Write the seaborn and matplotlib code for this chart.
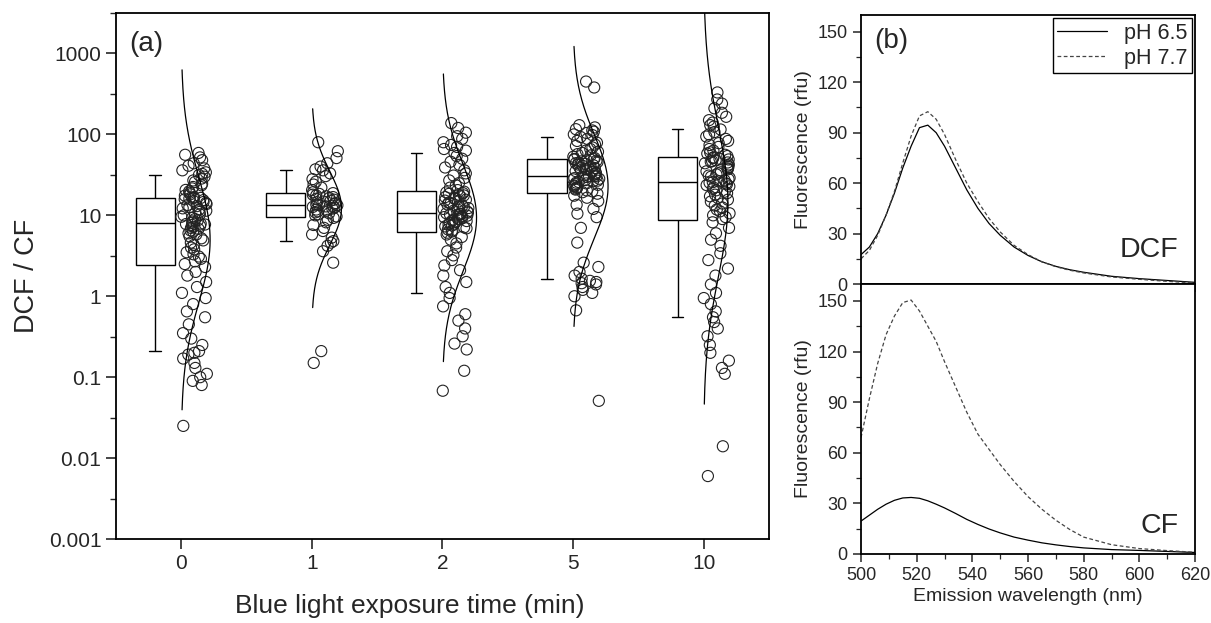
import numpy as np
import pandas as pd
import matplotlib
matplotlib.use("Agg")
import matplotlib.pyplot as plt
import matplotlib.ticker as mticker
import seaborn as sns

# (a) DCF / CF ratio of single cells per blue light exposure time
times = ["0", "1", "2", "5", "10"]
ratio_0 = [0.025, 0.08, 0.09, 0.1, 0.11, 0.13, 0.15, 0.17, 0.19, 0.2,
           0.21, 0.25, 0.3, 0.35, 0.45, 0.55, 0.65, 0.8, 0.95, 1.1, 1.3, 1.5, 1.8, 2.0, 2.3,
           2.5, 2.7, 2.9, 3.1, 3.3, 3.5, 3.8, 4.0, 4.3, 4.6, 4.9, 5.2, 5.5, 5.8, 6.0,
           6.3, 6.5, 6.8, 7.0, 7.2, 7.4, 7.6, 7.7, 7.8, 7.9,
           8.1, 8.4, 8.7, 9.0, 9.3, 9.6, 10, 10.3, 10.6, 11, 11.4, 11.8, 12.2, 12.6, 13,
           13.4, 13.8, 14.2, 14.6, 15, 15.4, 15.8, 16.1, 16.3, 16.4,
           16.8, 17.5, 18.2, 19, 19.8, 20.6, 21.5, 22.4, 23.5, 24.6, 25.8, 27, 28.5, 30, 31.5,
           32.5, 34, 36, 38, 41, 44, 48, 52, 56, 59]
ratio_1 = [0.15, 0.21, 2.6, 3.6, 4.2, 4.6,
           4.8, 5.3, 5.8, 6.4, 7.0, 7.6, 8.2, 8.8, 9.3,
           9.7, 10, 10.3, 10.6, 10.9, 11.2, 11.5, 11.8, 12.1, 12.4, 12.7, 12.9, 13.1, 13.3, 13.4,
           13.6, 13.9, 14.2, 14.5, 14.8, 15.2, 15.6, 16, 16.4, 16.8, 17.2, 17.6, 18, 18.4, 18.8,
           19.3, 20.5, 22, 24, 26, 28, 30.5, 33,
           36, 37, 40, 44, 51, 62, 80]
ratio_2 = [0.068, 0.12, 0.22, 0.26, 0.32, 0.4, 0.5, 0.6, 0.75, 0.95,
           1.1, 1.3, 1.5, 1.8, 2.1, 2.4, 2.8, 3.2, 3.6, 4.0, 4.5, 5.0, 5.4, 5.8, 6.1,
           6.3, 6.5, 6.7, 6.9, 7.1, 7.3, 7.5, 7.7, 7.9, 8.1, 8.3, 8.5, 8.7, 8.9, 9.1,
           9.3, 9.5, 9.7, 9.9, 10.1, 10.2, 10.3, 10.4, 10.5, 10.6,
           10.8, 11.1, 11.4, 11.7, 12, 12.3, 12.6, 12.9, 13.2, 13.6, 14, 14.4, 14.8, 15.2, 15.6,
           16, 16.4, 16.8, 17.2, 17.6, 18, 18.4, 18.8, 19.2, 19.6,
           20.5, 22, 23.5, 25, 27, 29, 31, 33, 36, 39, 42, 46, 50, 54, 59,
           63, 66, 70, 74, 80, 88, 95, 105, 120, 138]
ratio_5 = [0.051, 0.67, 1.0, 1.1, 1.2, 1.3, 1.4, 1.45, 1.5, 1.55,
           1.65, 1.8, 2.0, 2.3, 2.6, 4.6, 7.0, 9.5, 10.5, 12, 13.5, 15, 16.5, 17.5, 18.5,
           19.3, 19.8, 20.3, 20.8, 21.3, 21.8, 22.3, 22.8, 23.3, 23.8, 24.3, 24.8, 25.3, 25.8,
           26.3, 26.8, 27.3, 27.8, 28.3, 28.8, 29.3, 29.8, 30.2, 30.5, 30.8,
           31.2, 32, 32.8, 33.6, 34.4, 35.2, 36, 36.8, 37.6, 38.4, 39.2, 40, 40.8, 41.6,
           42.4, 43.2, 44, 44.8, 45.6, 46.4, 47.2, 48, 48.8, 49.4, 49.8,
           51, 53, 55, 57, 59, 61, 63, 66, 69, 72, 75, 79, 83, 88, 93,
           98, 100, 104, 108, 112, 116, 122, 130, 380, 450]
ratio_10 = [0.006, 0.014, 0.11, 0.13, 0.16, 0.2, 0.25, 0.32, 0.4, 0.48,
            0.55, 0.65, 0.8, 0.95, 1.1, 1.4, 1.8, 2.2, 2.8, 3.4, 4.2, 5.0, 6.0, 7.0, 8.2,
            9.0, 9.5, 10, 10.6, 11.2, 11.8, 12.5, 13.2, 14, 14.8, 15.6, 16.4, 17.2, 18, 18.8,
            19.6, 20.4, 21.2, 22, 22.8, 23.6, 24.2, 24.8, 25.3, 25.7,
            26.3, 27, 28, 29, 30, 31, 32, 33, 34, 35, 36, 37, 38, 39.5, 41,
            42.5, 44, 45, 46, 47, 48, 49, 50, 51, 52,
            54, 56, 58, 60, 63, 66, 70, 74, 78, 83, 88, 94, 100, 107, 115,
            125, 130, 140, 150, 165, 185, 210, 240, 270, 330]
ratios = [ratio_0, ratio_1, ratio_2, ratio_5, ratio_10]

# (b) emission spectra
wl = [500, 503, 506, 509, 512, 515, 518, 521, 524, 527, 530, 534, 538, 542, 546,
      550, 555, 560, 565, 570, 575, 580, 590, 600, 610, 620]
dcf_65 = [17.5, 22, 30, 41, 54, 69, 82, 93, 94.5, 90, 82, 69, 56, 45, 36,
          29, 22, 17, 13.2, 10.5, 8.5, 7, 4.6, 3.2, 2.1, 1.0]
dcf_77 = [15, 20, 29, 41, 55, 72, 88, 100, 102.5, 98, 89, 74, 60, 49, 39,
          31, 23, 17.5, 13.2, 10.3, 8.2, 6.6, 4.2, 2.8, 1.6, 0.6]
cf_65 = [19.5, 23, 26.5, 29.5, 31.8, 33.2, 33.5, 33, 31.5, 29.5, 27.3, 24, 20.5, 17.5, 14.8,
         12.5, 10, 8.2, 6.6, 5.4, 4.4, 3.6, 2.6, 2.1, 1.5, 0.9]
cf_77 = [69, 92, 113, 130, 141, 149, 150.5, 144, 135, 126, 114, 99, 84, 71, 62,
         53, 43, 34, 26.5, 20, 14.5, 10, 5.5, 3.2, 2.0, 1.0]

sns.set_theme(style="ticks")
plt.rcParams["font.family"] = ["Liberation Sans", "DejaVu Sans"]
plt.rcParams["axes.linewidth"] = 1.3
plt.rcParams["axes.edgecolor"] = "black"

rows = []
for i, (t, vals) in enumerate(zip(times, ratios)):
    for v in vals:
        rows.append({"time": t, "pos": i, "ratio": v})
df = pd.DataFrame(rows)

fig = plt.figure(figsize=(12.11, 6.23), dpi=100)
ax = fig.add_axes([0.0958, 0.1348, 0.5392, 0.8443])
ax.set_yscale("log")

# box left of each category, points and normal curve to the right
sns.boxplot(x=df["pos"] - 0.2, y=df["ratio"], native_scale=True, orient="x",
            width=0.3, whis=(10, 90), showfliers=False, color="white",
            linecolor="black", linewidth=1.0, capwidths=0.09, ax=ax)
np.random.seed(7)
sns.stripplot(x=df["pos"] + 0.1, y=df["ratio"], native_scale=True, orient="x",
              jitter=0.1, size=8, facecolor="none", edgecolor="#222222",
              linewidth=0.8, ax=ax)
k = 0.0043
for i, vals in enumerate(ratios):
    lv = np.log10(vals)
    mu, sd = lv.mean(), lv.std(ddof=1)
    yy = np.linspace(mu - 2.7 * sd, mu + 2.7 * sd, 200)
    dens = len(lv) * np.exp(-0.5 * ((yy - mu) / sd) ** 2) / (sd * np.sqrt(2 * np.pi))
    ax.plot(i + k * dens, 10 ** yy, color="black", lw=0.9, zorder=4)

ax.set_xlim(-0.5, 4.5)
ax.set_xticks(range(len(times)))
ax.set_xticklabels(times)
ax.set_ylim(1e-3, 10 ** 3.5)
ax.yaxis.set_major_locator(mticker.LogLocator(base=10, numticks=10))
ax.yaxis.set_major_formatter(mticker.FuncFormatter(lambda v, p: f"{v:g}"))
ax.yaxis.set_minor_locator(mticker.LogLocator(base=10, subs=(10 ** 0.5,), numticks=10))
ax.yaxis.set_minor_formatter(mticker.NullFormatter())
ax.tick_params(which="major", direction="out", length=7, width=1.2, labelsize=15)
ax.tick_params(which="minor", direction="out", length=4, width=1.0)
ax.set_xlabel("Blue light exposure time (min)", fontsize=19)
ax.xaxis.set_label_coords(0.45, -0.105)
ax.set_ylabel("DCF / CF", fontsize=19.5, labelpad=6)
ax.text(0.02, 0.965, "(a)", transform=ax.transAxes, fontsize=20, va="top")

# panel (b)
axb1 = fig.add_axes([0.711, 0.5441, 0.2758, 0.4318])
axb2 = fig.add_axes([0.711, 0.1108, 0.2758, 0.4333])
sns.lineplot(x=wl, y=dcf_65, color="black", lw=0.9, label="pH 6.5", ax=axb1)
sns.lineplot(x=wl, y=dcf_77, color="#444444", lw=0.9, ls=(0, (3, 2)), label="pH 7.7", ax=axb1)
sns.lineplot(x=wl, y=cf_65, color="black", lw=0.9, ax=axb2)
sns.lineplot(x=wl, y=cf_77, color="#444444", lw=0.9, ls=(0, (3, 2)), ax=axb2)

for a in (axb1, axb2):
    a.set_xlim(500, 620)
    a.set_ylim(0, 160)
    a.set_yticks(range(0, 151, 30))
    a.yaxis.set_minor_locator(mticker.MultipleLocator(15))
    a.xaxis.set_major_locator(mticker.MultipleLocator(20))
    a.xaxis.set_minor_locator(mticker.MultipleLocator(10))
    a.tick_params(which="major", direction="out", length=6, width=1.1, labelsize=13)
    a.tick_params(which="minor", direction="out", length=3.5, width=0.9)
    a.set_ylabel("Fluorescence (rfu)", fontsize=14, labelpad=4)
axb1.set_xlabel("")
axb1.tick_params(axis="x", labelbottom=False)
axb2.set_xlabel("Emission wavelength (nm)", fontsize=14, labelpad=3)

leg = axb1.legend(loc="upper right", frameon=True, fancybox=False, framealpha=1,
                  edgecolor="black", fontsize=15.5, handlelength=2.3,
                  borderaxespad=0.15, borderpad=0.2, labelspacing=0.2)
leg.get_frame().set_linewidth(1.0)
axb1.text(0.04, 0.95, "(b)", transform=axb1.transAxes, fontsize=20, va="top")
axb1.text(0.95, 0.10, "DCF", transform=axb1.transAxes, fontsize=20.5, ha="right", va="baseline")
axb2.text(0.95, 0.078, "CF", transform=axb2.transAxes, fontsize=20.5, ha="right", va="baseline")

fig.savefig("out.png", dpi=100)
